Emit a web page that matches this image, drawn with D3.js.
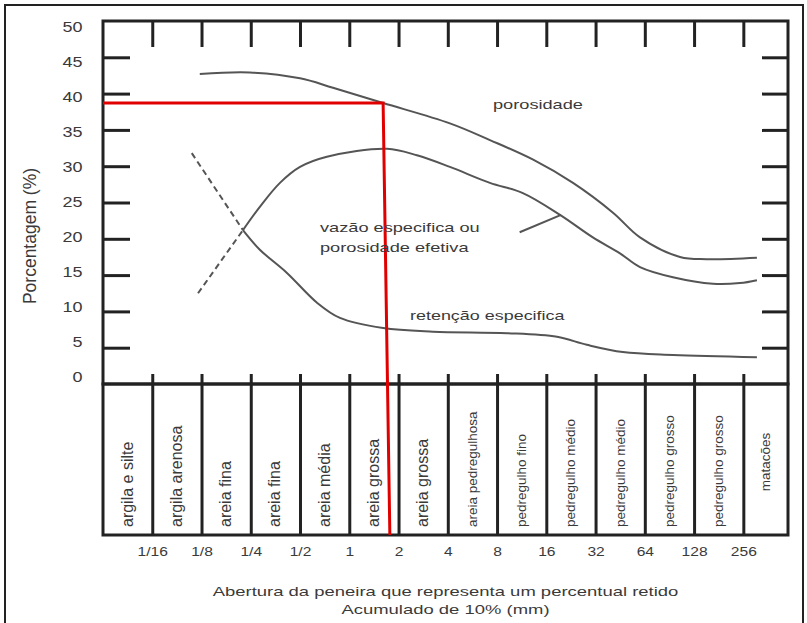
<!DOCTYPE html>
<html>
<head>
<meta charset="utf-8">
<script src="https://cdn.jsdelivr.net/npm/d3@7"></script>
<style>
  body { margin: 0; background: #fff; }
  text { font-family: "Liberation Sans", Arial, sans-serif; fill: #3a3a3a; }
</style>
</head>
<body>
<script>
// Chart data: grain size (mm) vs percentage
const dividers = [1/16, 1/8, 1/4, 1/2, 1, 2, 4, 8, 16, 32, 64, 128, 256];
const dividerLabels = ["1/16", "1/8", "1/4", "1/2", "1", "2", "4", "8", "16", "32", "64", "128", "256"];
const classes = ["argila e silte", "argila arenosa", "areia fina", "areia fina", "areia média",
  "areia grossa", "areia grossa", "areia pedregulhosa", "pedregulho fino", "pedregulho médio",
  "pedregulho médio", "pedregulho grosso", "pedregulho grosso", "matacões"];
const yTicks = [0, 5, 10, 15, 20, 25, 30, 35, 40, 45, 50];

const porosidade = [[0.122, 42.7], [0.247, 42.9], [0.5, 42.1], [0.795, 40.8], [1.61, 38.7],
  [4.12, 35.9], [7.24, 33.6], [13.3, 30.9], [23.3, 27.7], [40.9, 23.6], [59.8, 20.2],
  [105, 17.5], [153, 17.2], [310, 17.4]];
const vazao = [[0.224, 21.2], [0.284, 24.4], [0.377, 27.7], [0.5, 29.9], [0.73, 31.3],
  [1.7, 32.4], [2.59, 31.5], [4.12, 29.9], [7.24, 27.7], [11.5, 26.3], [19.4, 23.3],
  [30.8, 20.2], [45.1, 18.0], [59.8, 16.1], [95.1, 14.7], [167, 13.8], [244, 13.9], [310, 14.3]];
const retencao = [[0.224, 21.2], [0.284, 18.5], [0.416, 15.3], [0.635, 11.2], [0.877, 9.1],
  [1.61, 7.7], [3.25, 7.2], [9.2, 7.0], [18.6, 6.5], [28.3, 5.4], [47.0, 4.4], [95.1, 4.0], [310, 3.7]];
const vazaoDashed = [[0.119, 12.5], [0.224, 21.2]];
const retencaoDashed = [[0.109, 31.8], [0.224, 21.2]];
const vazaoLeader = [[11.0, 20.9], [19.7, 23.3]];
const redPoint = [1.61, 38.7];
const redBottomSize = 1.77;

const width = 807, height = 623;
const plotLeft = 103, plotRight = 788, plotTop = 21, zeroY = 384, tableBottom = 535;

const svg = d3.select("body").append("svg")
  .attr("width", width).attr("height", height);

// outer frame
svg.append("path")
  .attr("d", `M5,${height} V5 H803 V${height}`)
  .attr("fill", "none").attr("stroke", "#222").attr("stroke-width", 2);

const x = d3.scaleLog().base(2).domain([1/32, 480]).range([plotLeft, plotRight]);
const y = d3.scaleLinear().domain([0, 50]).range([zeroY, plotTop]);
const yLabel = d3.scaleLinear().domain([0, 50]).range([377, 27]);

function styleAxis(g) {
  g.select(".domain").remove();
  g.selectAll(".tick line").attr("stroke", "#222").attr("stroke-width", 3);
}

// plot box and class table
svg.append("rect").attr("x", plotLeft).attr("y", plotTop)
  .attr("width", plotRight - plotLeft).attr("height", zeroY - plotTop)
  .attr("fill", "none").attr("stroke", "#222").attr("stroke-width", 3);
svg.append("rect").attr("x", plotLeft).attr("y", zeroY)
  .attr("width", plotRight - plotLeft).attr("height", tableBottom - zeroY)
  .attr("fill", "none").attr("stroke", "#222").attr("stroke-width", 3);

// inward ticks
svg.append("g").attr("transform", `translate(0,${plotTop})`)
  .call(d3.axisBottom(x).tickValues(dividers).tickSize(26).tickFormat(""))
  .call(styleAxis);
svg.append("g").attr("transform", `translate(0,${zeroY})`)
  .call(d3.axisTop(x).tickValues(dividers).tickSize(10).tickFormat(""))
  .call(styleAxis);
svg.append("g").attr("transform", `translate(0,${zeroY})`)
  .call(d3.axisBottom(x).tickValues(dividers).tickSize(tableBottom - zeroY).tickFormat(""))
  .call(styleAxis);
svg.append("g").attr("transform", `translate(${plotLeft},0)`)
  .call(d3.axisRight(y).tickValues(yTicks.slice(1, -1)).tickSize(27).tickFormat(""))
  .call(styleAxis);
svg.append("g").attr("transform", `translate(${plotRight},0)`)
  .call(d3.axisLeft(y).tickValues(yTicks.slice(1, -1)).tickSize(26).tickFormat(""))
  .call(styleAxis);

// y tick labels (text in the source is stretched sideways)
svg.append("g").attr("transform", "translate(86,0)")
  .call(d3.axisLeft(yLabel).tickValues(yTicks).tickSize(0).tickPadding(3))
  .call(g => g.select(".domain").remove())
  .selectAll("text").attr("font-size", 15).attr("fill", "#3a3a3a")
  .attr("transform", "scale(1.2,1)")
  .style("font-family", "Liberation Sans, Arial, sans-serif");

// size labels under the table
svg.append("g").attr("transform", `translate(0,${tableBottom})`)
  .call(d3.axisBottom(x).tickValues(dividers).tickSize(0).tickPadding(12)
    .tickFormat((d, i) => dividerLabels[i]))
  .call(g => g.select(".domain").remove())
  .selectAll("text").attr("font-size", 13).attr("fill", "#3a3a3a")
  .attr("transform", "scale(1.2,1)")
  .style("font-family", "Liberation Sans, Arial, sans-serif");

// class names
const edges = [x.domain()[0], ...dividers, x.domain()[1]];
svg.append("g").selectAll("text")
  .data(classes)
  .join("text")
  .attr("transform", (d, i) => {
    const cx = (x(edges[i]) + x(edges[i + 1])) / 2;
    const big = i < 7;
    const cy = d === "matacões" ? 462 : 527;
    return `translate(${cx + (big ? 5 : 4.5)},${cy}) rotate(-90)`;
  })
  .attr("text-anchor", d => d === "matacões" ? "middle" : "start")
  .attr("font-size", (d, i) => i < 7 ? 16 : 13.5)
  .text(d => d);

// curves
const line = d3.line().x(d => x(d[0])).y(d => y(d[1])).curve(d3.curveCatmullRom);
const straight = d3.line().x(d => x(d[0])).y(d => y(d[1]));
const curves = svg.append("g").attr("fill", "none").attr("stroke", "#555").attr("stroke-width", 2);
curves.append("path").attr("d", line(porosidade));
curves.append("path").attr("d", line(vazao));
curves.append("path").attr("d", line(retencao));
curves.append("path").attr("d", straight(vazaoLeader));
curves.append("path").attr("d", straight(vazaoDashed)).attr("stroke-dasharray", "6,4");
curves.append("path").attr("d", straight(retencaoDashed)).attr("stroke-dasharray", "6,4");

// red reading lines
svg.append("path")
  .attr("d", `M${plotLeft},${y(redPoint[1])} H${x(redPoint[0])} L${x(redBottomSize)},${tableBottom}`)
  .attr("fill", "none").attr("stroke", "#e10000").attr("stroke-width", 3);

// curve labels
function label(g, tx, ty, s, sx) {
  g.append("text").attr("transform", `translate(${tx},${ty}) scale(${sx},1)`).text(s);
}
const labels = svg.append("g").attr("font-size", 13);
label(labels, 493, 109, "porosidade", 1.4);
label(labels, 320, 232, "vazão especifica ou", 1.4);
label(labels, 320, 252, "porosidade efetiva", 1.4);
label(labels, 410, 320, "retenção especifica", 1.38);

// axis titles
svg.append("text").attr("transform", "translate(36,236) rotate(-90)")
  .attr("text-anchor", "middle").attr("font-size", 17.5).text("Porcentagem (%)");
const midX = (plotLeft + plotRight) / 2;
svg.append("text").attr("transform", `translate(${midX},596) scale(1.42,1)`)
  .attr("text-anchor", "middle").attr("font-size", 13)
  .text("Abertura da peneira que representa um percentual retido");
svg.append("text").attr("transform", `translate(${midX},614) scale(1.42,1)`)
  .attr("text-anchor", "middle").attr("font-size", 13)
  .text("Acumulado de 10% (mm)");
</script>
</body>
</html>
